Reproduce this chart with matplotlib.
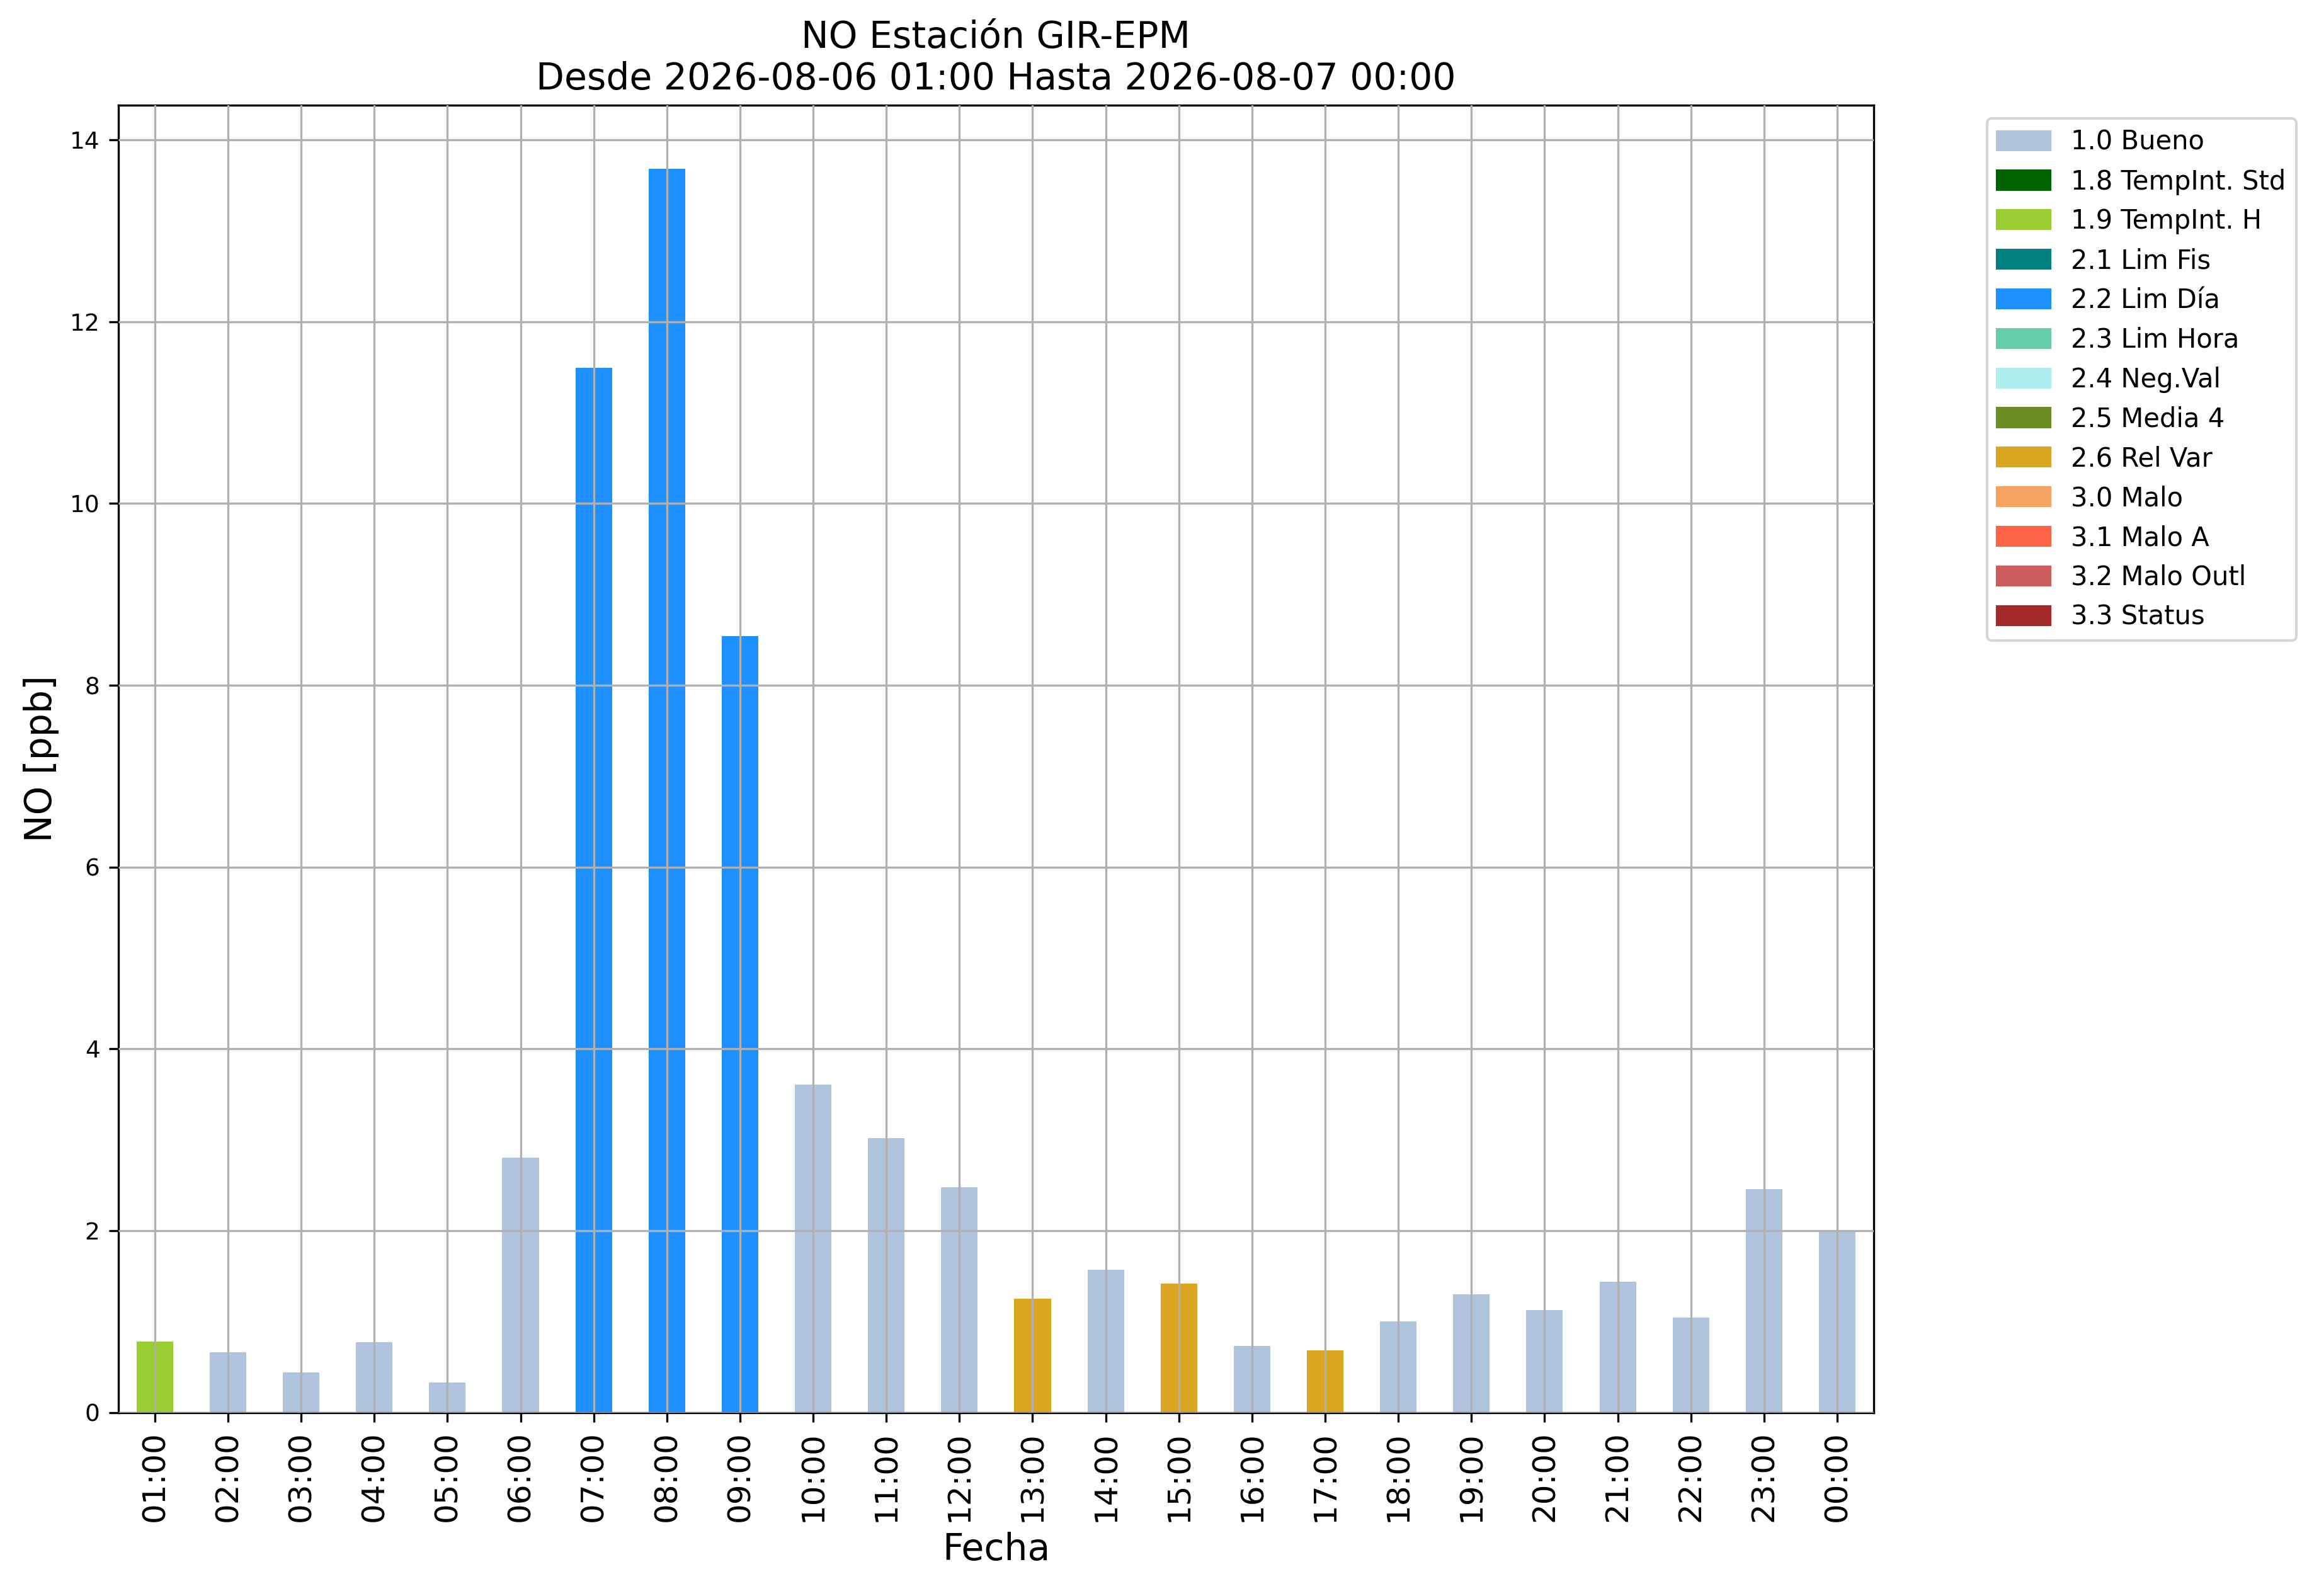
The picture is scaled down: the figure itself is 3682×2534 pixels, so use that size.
import numpy as np
import matplotlib
matplotlib.use("Agg")
import matplotlib.pyplot as plt
from matplotlib.patches import Patch

# hourly NO values and their quality flag
horas = ["01:00", "02:00", "03:00", "04:00", "05:00", "06:00", "07:00", "08:00",
         "09:00", "10:00", "11:00", "12:00", "13:00", "14:00", "15:00", "16:00",
         "17:00", "18:00", "19:00", "20:00", "21:00", "22:00", "23:00", "00:00"]
valores = [0.78, 0.66, 0.44, 0.77, 0.33, 2.80, 11.49, 13.68,
           8.54, 3.61, 3.02, 2.48, 1.25, 1.57, 1.42, 0.73,
           0.68, 1.00, 1.30, 1.13, 1.44, 1.04, 2.46, 2.00]
flags = [1.9, 1.0, 1.0, 1.0, 1.0, 1.0, 2.2, 2.2,
         2.2, 1.0, 1.0, 1.0, 2.6, 1.0, 2.6, 1.0,
         2.6, 1.0, 1.0, 1.0, 1.0, 1.0, 1.0, 1.0]

flag_vals = [1.0, 1.8, 1.9, 2.1, 2.2, 2.3, 2.4, 2.5, 2.6, 3.0, 3.1, 3.2, 3.3]
flag_names = ["Bueno", "TempInt. Std", "TempInt. H", "Lim Fis", "Lim Día", "Lim Hora",
              "Neg.Val", "Media 4", "Rel Var", "Malo", "Malo A", "Malo Outl", "Status"]
flag_colors = ["lightsteelblue", "darkgreen", "yellowgreen", "teal", "dodgerblue",
               "mediumaquamarine", "paleturquoise", "olivedrab", "goldenrod",
               "sandybrown", "tomato", "indianred", "brown"]

color_map = dict(zip(flag_vals, flag_colors))
colores = [color_map[f] for f in flags]

fig = plt.figure(figsize=(3682/300, 2534/300), dpi=300)
ax = fig.add_axes([0.051, 0.115, 0.757, 0.819])

x = np.arange(len(horas))
ax.bar(x, valores, width=0.5, color=colores, zorder=2)
ax.set_xlim(-0.5, len(horas) - 0.5)
ax.set_ylim(0, 14.38)
ax.set_xticks(x)
ax.set_xticklabels(horas, rotation=90, fontsize=12)
ax.tick_params(axis="y", labelsize=9)
ax.grid(True, color="#b0b0b0", linewidth=0.8, zorder=3)
ax.set_axisbelow(False)

ax.set_title("NO Estación GIR-EPM\nDesde 2026-08-06 01:00 Hasta 2026-08-07 00:00", fontsize=14)
ax.set_xlabel("Fecha", fontsize=14)
ax.set_ylabel("NO [ppb]", fontsize=14)

handles = [Patch(color=c, label="%.1f %s" % (v, n))
           for v, n, c in zip(flag_vals, flag_names, flag_colors)]
ax.legend(handles=handles, bbox_to_anchor=(1.057, 1), loc="upper left", fontsize=10)

fig.savefig("out.png", dpi=300)
